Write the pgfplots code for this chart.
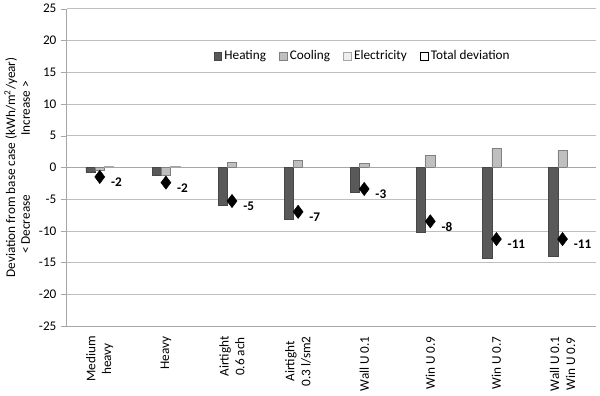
\documentclass[border=0pt]{standalone}
\usepackage{pgfplots}
\pgfplotsset{compat=1.18}
\usepackage{fontspec}
\setmainfont{Carlito}
\definecolor{heat}{RGB}{89,89,89}
\definecolor{cool}{RGB}{191,191,191}
\definecolor{elec}{RGB}{238,238,238}
\begin{document}
\begin{tikzpicture}
\begin{axis}[
  scale only axis, width=400pt, height=240pt,
  ymin=-25, ymax=25, ytick={-25,-20,...,25},
  xmin=-0.5, xmax=7.5,
  xtick={0,...,7},
  xticklabels={{Medium\\heavy},Heavy,{Airtight\\0.6 ach},{Airtight\\0.3 l/sm2},{Wall U 0.1},{Win U 0.9},{Win U 0.7},{Wall U 0.1\\Win U 0.9}},
  xticklabel style={rotate=90, anchor=east, align=center},
  axis x line=bottom, axis y line=left,
  axis line style={-, gray!70},
  extra x ticks={-0.5,0.5,...,7.5}, extra x tick labels={},
  extra x tick style={major tick length=4pt, tick style={gray!70}},
  ymajorgrids, grid style={gray!50},
  major tick style={gray!70},
  tick align=outside,
  xtick style={draw=none},
  ylabel={\shortstack{Deviation from base case (kWh/m\textsuperscript{2}/year)\\{< Decrease}\hspace{4.5em}{Increase >}}},
  /pgf/number format/assume math mode=true,
  ybar=0pt, bar width=7pt,
  legend style={draw=none, at={(0.27,0.85)}, anchor=west, legend columns=4, /tikz/every even column/.append style={column sep=8pt}, fill=white},
  legend image code/.code={\draw[#1] (0cm,-0.1cm) rectangle (0.2cm,0.1cm);},
  clip=false,
]
\draw[gray!70] (axis cs:-0.5,0) -- (axis cs:7.5,0);
\addplot[fill=heat, draw=heat!80!black] coordinates {(0,-0.7)(1,-1.3)(2,-6.0)(3,-8.1)(4,-3.9)(5,-10.2)(6,-14.3)(7,-14.0)};
\addplot[fill=cool, draw=gray] coordinates {(0,-0.5)(1,-1.2)(2,0.75)(3,1.1)(4,0.6)(5,1.9)(6,3.0)(7,2.7)};
\addplot[fill=elec, draw=gray!70] coordinates {(0,0.2)(1,0.1)(2,0)(3,0)(4,0)(5,0)(6,0)(7,0)};
\addlegendimage{only marks, mark=diamond*, mark size=4pt, black}
\legend{Heating,Cooling,Electricity,Total deviation}
\end{axis}
\begin{axis}[
  scale only axis, width=400pt, height=240pt,
  ymin=-25, ymax=25, xmin=-0.5, xmax=7.5,
  hide axis, clip=false,
]
\addplot[only marks, mark=diamond*, mark size=5pt, black,
  nodes near coords, point meta=explicit symbolic,
  every node near coord/.append style={anchor=west, xshift=5pt, yshift=-4pt, font=\bfseries}]
  table[meta=l] {
x y l
0 -1.5 -2
1 -2.4 -2
2 -5.3 -5
3 -7.0 -7
4 -3.4 -3
5 -8.5 -8
6 -11.3 -11
7 -11.3 -11
};
\end{axis}
\end{tikzpicture}
\end{document}
